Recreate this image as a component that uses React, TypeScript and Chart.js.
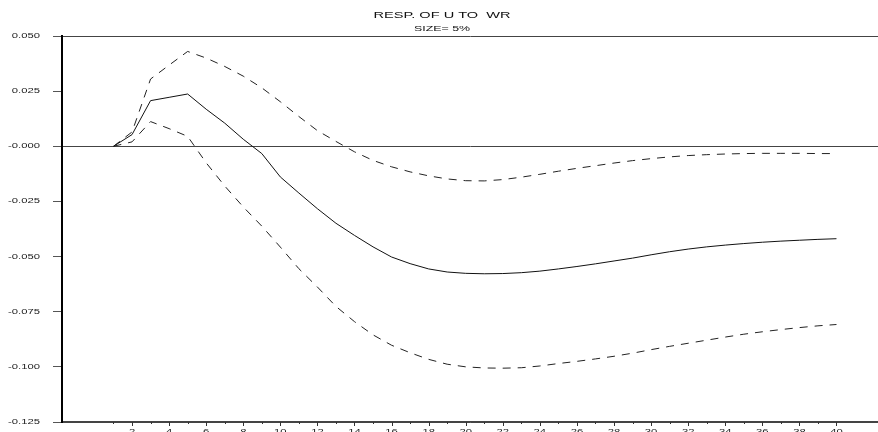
import React, { useEffect, useRef } from 'react';
import { Chart, registerables } from 'chart.js';

Chart.register(...registerables);

const TITLE = 'RESP. OF U TO  WR';
const SUBTITLE = 'SIZE= 5%';

const PERIODS = [
  1, 2, 3, 4, 5, 6, 7, 8, 9, 10,
  11, 12, 13, 14, 15, 16, 17, 18, 19, 20,
  21, 22, 23, 24, 25, 26, 27, 28, 29, 30,
  31, 32, 33, 34, 35, 36, 37, 38, 39, 40,
];

const RESPONSE = [
  0.0000, 0.0053, 0.0207, 0.0222, 0.0237, 0.0168, 0.0105, 0.0032, -0.0033, -0.0139,
  -0.0212, -0.0283, -0.0349, -0.0404, -0.0456, -0.0502, -0.0532, -0.0556, -0.0570, -0.0576,
  -0.0578, -0.0577, -0.0573, -0.0566, -0.0556, -0.0545, -0.0533, -0.0520, -0.0507, -0.0492,
  -0.0478, -0.0466, -0.0456, -0.0448, -0.0441, -0.0435, -0.0430, -0.0426, -0.0422, -0.0419,
];

const UPPER = [
  0.0000, 0.0065, 0.0305, 0.0368, 0.0430, 0.0400, 0.0362, 0.0318, 0.0265, 0.0202,
  0.0135, 0.0071, 0.0022, -0.0025, -0.0064, -0.0093, -0.0116, -0.0134, -0.0148, -0.0156,
  -0.0157, -0.0151, -0.0140, -0.0127, -0.0113, -0.0100, -0.0088, -0.0076, -0.0065, -0.0056,
  -0.0048, -0.0042, -0.0038, -0.0035, -0.0033, -0.0032, -0.0032, -0.0032, -0.0033, -0.0033,
];

const LOWER = [
  0.0000, 0.0020, 0.0112, 0.0080, 0.0045, -0.0075, -0.0180, -0.0275, -0.0362, -0.0457,
  -0.0555, -0.0638, -0.0726, -0.0795, -0.0855, -0.0902, -0.0936, -0.0966, -0.0988, -0.1000,
  -0.1005, -0.1006, -0.1004, -0.0996, -0.0985, -0.0975, -0.0964, -0.0952, -0.0938, -0.0922,
  -0.0907, -0.0893, -0.0879, -0.0865, -0.0852, -0.0841, -0.0831, -0.0822, -0.0814, -0.0808,
];

const Y_TICKS = [0.05, 0.025, 0, -0.025, -0.05, -0.075, -0.1, -0.125];
const Y_TICK_LABELS = ['0.050', '0.025', '-0.000', '-0.025', '-0.050', '-0.075', '-0.100', '-0.125'];
const Y_RULED = [0.05, 0, -0.125];

const X_TICKS = PERIODS;
const X_TICK_LABELS = PERIODS.map((p) => (p % 2 === 0 ? String(p) : ''));

const W = 878;
const H = 432;
const FONT = '"Liberation Sans", Arial, Helvetica, sans-serif';

function drawStretched(ctx: CanvasRenderingContext2D, text: string, x: number, y: number,
  size: number, k: number, align: CanvasTextAlign, baseline: CanvasTextBaseline) {
  ctx.save();
  ctx.translate(x, y);
  ctx.scale(k, 1);
  ctx.font = `${size}px ${FONT}`;
  ctx.textAlign = align;
  ctx.textBaseline = baseline;
  ctx.fillText(text, 0, 0);
  ctx.restore();
}

const textPlugin = {
  id: 'stretchedText',
  afterDraw(chart: any) {
    const ctx: CanvasRenderingContext2D = chart.ctx;
    const xs = chart.scales.x;
    const ys = chart.scales.y;
    const area = chart.chartArea;
    ctx.save();
    // x tick marks
    ctx.strokeStyle = '#333';
    ctx.lineWidth = 1;
    X_TICKS.forEach((p) => {
      const x = Math.round(xs.getPixelForValue(p)) + 0.5;
      const len = p % 2 === 0 ? 4 : 2;
      ctx.beginPath();
      ctx.moveTo(x, area.bottom);
      ctx.lineTo(x, area.bottom + len);
      ctx.stroke();
    });
    ctx.fillStyle = '#222';
    // x labels
    X_TICKS.forEach((p, i) => {
      const lbl = X_TICK_LABELS[i];
      if (!lbl) return;
      drawStretched(ctx, lbl, xs.getPixelForValue(p), 428, 7.5, 1.5, 'center', 'top');
    });
    // y labels
    Y_TICKS.forEach((v, i) => {
      drawStretched(ctx, Y_TICK_LABELS[i], 40, ys.getPixelForValue(v), 7.5, 1.5, 'right', 'middle');
    });
    // title
    ctx.fillStyle = '#111';
    drawStretched(ctx, TITLE, 442, 16, 9, 1.62, 'center', 'middle');
    drawStretched(ctx, SUBTITLE, 442, 28.5, 7.5, 1.65, 'center', 'middle');
    ctx.restore();
  },
};

export default function App() {
  const ref = useRef<HTMLCanvasElement | null>(null);

  useEffect(() => {
    if (!ref.current) return;
    const mk = (vals: number[]) => PERIODS.map((p, i) => ({ x: p, y: vals[i] }));
    const chart = new Chart(ref.current, {
      type: 'line',
      data: {
        datasets: [
          {
            label: 'Response',
            data: mk(RESPONSE),
            borderColor: '#111',
            borderWidth: 1,
            pointRadius: 0,
            tension: 0,
            fill: false,
          },
          {
            label: 'Upper',
            data: mk(UPPER),
            borderColor: '#222',
            borderWidth: 1,
            borderDash: [8, 7],
            pointRadius: 0,
            tension: 0,
            fill: false,
          },
          {
            label: 'Lower',
            data: mk(LOWER),
            borderColor: '#222',
            borderWidth: 1,
            borderDash: [8, 7],
            pointRadius: 0,
            tension: 0,
            fill: false,
          },
        ],
      },
      options: {
        animation: false,
        responsive: false,
        maintainAspectRatio: false,
        devicePixelRatio: 1,
        layout: { padding: { top: 36, right: 0, bottom: 0, left: 0 } },
        plugins: {
          legend: { display: false },
          title: { display: false },
          tooltip: { enabled: false },
        },
        scales: {
          x: {
            type: 'linear',
            min: -1.778,
            max: 42.24,
            afterBuildTicks: (scale: any) => {
              scale.ticks = X_TICKS.map((v) => ({ value: v }));
            },
            afterFit: (scale: any) => {
              scale.height = 10;
            },
            grid: { display: false, drawTicks: false },
            ticks: { display: false },
            border: { display: true, color: '#444', width: 1.5 },
          },
          y: {
            type: 'linear',
            min: -0.125,
            max: 0.05,
            afterBuildTicks: (scale: any) => {
              scale.ticks = Y_TICKS.map((v) => ({ value: v }));
            },
            afterFit: (scale: any) => {
              scale.width = 62;
            },
            grid: {
              display: true,
              drawTicks: true,
              tickLength: 9,
              tickColor: '#555',
              lineWidth: 1,
              color: (c: any) =>
                c.tick && Y_RULED.some((r) => Math.abs(r - c.tick.value) < 1e-9) ? '#444' : 'rgba(0,0,0,0)',
            },
            ticks: { display: false },
            border: { display: true, color: '#000', width: 2 },
          },
        },
      },
      plugins: [textPlugin],
    });
    return () => chart.destroy();
  }, []);

  return (
    <div style={{ position: 'fixed', left: 0, top: 0, width: W, height: H, overflow: 'hidden', background: '#fff' }}>
      <canvas ref={ref} width={W} height={H} style={{ display: 'block', width: W, height: H }} />
    </div>
  );
}
